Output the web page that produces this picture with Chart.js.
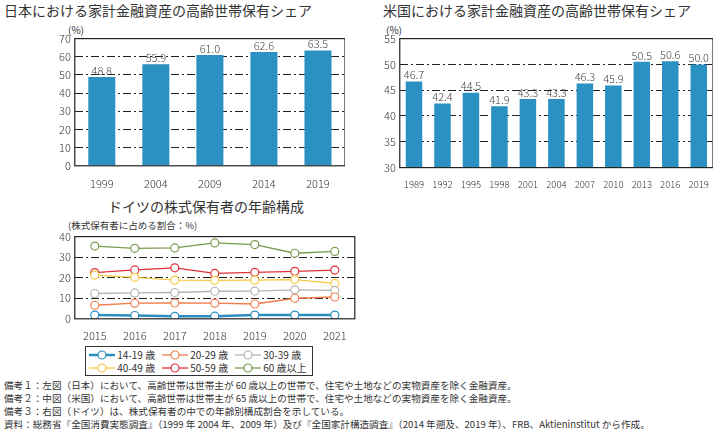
<!DOCTYPE html>
<html><head><meta charset="utf-8">
<script src="https://cdn.jsdelivr.net/npm/chart.js@4"></script>
<style>
body{margin:0;width:718px;height:434px;background:#fff;font-family:"Noto Sans CJK JP",sans-serif;color:#333;position:relative;overflow:hidden}
.t{position:absolute;white-space:nowrap}
canvas{position:absolute}
#legend{position:absolute;left:85px;top:346px;width:226px;height:28px;border:1px solid #333;font-size:10px}
#legend span{position:absolute;display:flex;align-items:center;white-space:nowrap;line-height:13px}
</style></head><body>
<div class="t" style="left:4px;top:0;font-size:14px">日本における家計金融資産の高齢世帯保有シェア</div>
<div class="t" style="left:68px;top:22px;font-size:10px">(%)</div>
<div class="t" style="left:383px;top:0;font-size:14px">米国における家計金融資産の高齢世帯保有シェア</div>
<div class="t" style="left:386px;top:22px;font-size:10px">(%)</div>
<div class="t" style="left:108px;top:196px;font-size:14px">ドイツの株式保有者の年齢構成</div>
<div class="t" style="left:68px;top:218px;font-size:9.5px">(株式保有者に占める割合：%)</div>
<div id="legend"></div>
<div class="t" style="left:4px;top:379px;font-size:9.6px;line-height:13px">備考１：左図（日本）において、高齢世帯は世帯主が 60 歳以上の世帯で、住宅や土地などの実物資産を除く金融資産。<br>備考２：中図（米国）において、高齢世帯は世帯主が 65 歳以上の世帯で、住宅や土地などの実物資産を除く金融資産。<br>備考３：右図（ドイツ）は、株式保有者の中での年齢別構成割合を示している。<br>資料：総務省『全国消費実態調査』（1999 年 2004 年、2009 年）及び『全国家計構造調査』（2014 年遡及、2019 年）、FRB、Aktieninstitut から作成。</div>
<canvas id="jp" style="left:55px;top:28px;width:290px;height:165px"></canvas>
<canvas id="us" style="left:380px;top:28px;width:333px;height:165px"></canvas>
<canvas id="de" style="left:55px;top:226px;width:305px;height:118px"></canvas>
<script>
const jpYears = ["1999","2004","2009","2014","2019"];
const jpShare = [48.8, 55.9, 61.0, 62.6, 63.5];
const usYears = ["1989","1992","1995","1998","2001","2004","2007","2010","2013","2016","2019"];
const usShare = [46.7, 42.4, 44.5, 41.9, 43.3, 43.3, 46.3, 45.9, 50.5, 50.6, 50.0];
const deYears = ["2015","2016","2017","2018","2019","2020","2021"];
const deLabels = ["14-19 歳","20-29 歳","30-39 歳","40-49 歳","50-59 歳","60 歳以上"];
const de1419 = [1.8, 1.6, 1.2, 1.3, 1.8, 1.8, 1.8];
const de2029 = [6.6, 7.6, 7.7, 7.6, 7.2, 10.0, 10.6];
const de3039 = [12.3, 12.6, 12.8, 13.4, 13.5, 14.1, 13.8];
const de4049 = [21.3, 20.2, 18.8, 18.7, 18.8, 19.1, 17.2];
const de5059 = [22.5, 23.8, 24.8, 22.1, 22.6, 23.1, 23.7];
const de60 = [35.4, 34.3, 34.5, 36.9, 36.1, 31.9, 32.8];
const deColors = ["#2a8fc0","#f07d4a","#b4b4b4","#f5c842","#e0303a","#7a9a50"];

const BLUE = "#2a91c2";
const tickFont = {family:"Noto Sans CJK JP", size:11, weight:"300"};

const boxPlugin = {
  id:"box",
  afterDraw(chart){
    const a = chart.chartArea, c = chart.ctx;
    c.save(); c.strokeStyle="#222"; c.lineWidth=1.2;
    c.strokeRect(a.left, a.top, a.right-a.left, a.bottom-a.top);
    c.restore();
  }
};
const labelPlugin = {
  id:"vals",
  afterDatasetsDraw(chart){
    const c = chart.ctx, meta = chart.getDatasetMeta(0);
    c.save(); c.fillStyle="#444"; c.font="300 11px 'Noto Sans CJK JP'"; c.textAlign="center"; c.textBaseline="bottom";
    meta.data.forEach((b,i)=> c.fillText(chart.data.datasets[0].data[i].toFixed(1), b.x, b.y-1));
    c.restore();
  }
};
function grid(min,max){
  return {
    color: ctx => (ctx.tick && ctx.tick.value>min && ctx.tick.value<max) ? "#222" : "rgba(0,0,0,0)",
    lineWidth:1, drawTicks:false
  };
}

function barChart(id, labels, data, min, max, step, pct, xsize){
  new Chart(document.getElementById(id), {
    type:"bar",
    data:{labels, datasets:[{data, backgroundColor:BLUE, barPercentage:pct, categoryPercentage:1}]},
    options:{
      responsive:false, animation:false,
      plugins:{legend:{display:false}, tooltip:{enabled:false}},
      scales:{
        x:{grid:{display:false}, border:{display:false},
           ticks:{color:"#333", font:{...tickFont, size:xsize}, padding:3, maxRotation:0, autoSkip:false}},
        y:{min, max, ticks:{stepSize:step, color:"#333", font:tickFont, padding:4},
           grid:grid(min,max), border:{display:false, dash:[8,3,2,3]}}
      }
    },
    plugins:[boxPlugin, labelPlugin]
  });
}
barChart("jp", jpYears, jpShare, 0, 70, 10, 0.5, 11);
barChart("us", usYears, usShare, 30, 55, 5, 0.58, 9.5);

const deSeries = [de1419, de2029, de3039, de4049, de5059, de60];
new Chart(document.getElementById("de"), {
  type:"line",
  data:{labels:deYears, datasets:deSeries.map((d,i)=>({
    label:deLabels[i], data:d, borderColor:deColors[i], backgroundColor:"#fff",
    borderWidth:i===0?2.5:1.3, pointRadius:4, pointBorderWidth:1.2, pointBackgroundColor:"#fff"
  }))},
  options:{
    responsive:false, animation:false,
    layout:{padding:{left:0,right:4}},
    plugins:{legend:{display:false}, tooltip:{enabled:false}},
    scales:{
      x:{offset:true, grid:{display:false}, border:{display:false}, ticks:{color:"#333", font:tickFont, padding:2}},
      y:{min:0, max:40, ticks:{stepSize:10, color:"#333", font:tickFont, padding:4},
         grid:grid(0,40), border:{display:false, dash:[8,3,2,3]}}
    }
  },
  plugins:[boxPlugin]
});

const lg = document.getElementById("legend");
deLabels.forEach((l,i)=>{
  const s = document.createElement("span");
  s.style.left = (3 + (i%3)*73) + "px";
  s.style.top = (i<3 ? 1 : 14) + "px";
  s.innerHTML = '<svg width="26" height="12"><line x1="0" y1="6" x2="26" y2="6" stroke="'+deColors[i]+'" stroke-width="'+(i===0?2.5:1.3)+'"/><circle cx="13" cy="6" r="4" fill="#fff" stroke="'+deColors[i]+'" stroke-width="1.2"/></svg>&nbsp;' + l;
  lg.appendChild(s);
});
</script>
</body></html>
